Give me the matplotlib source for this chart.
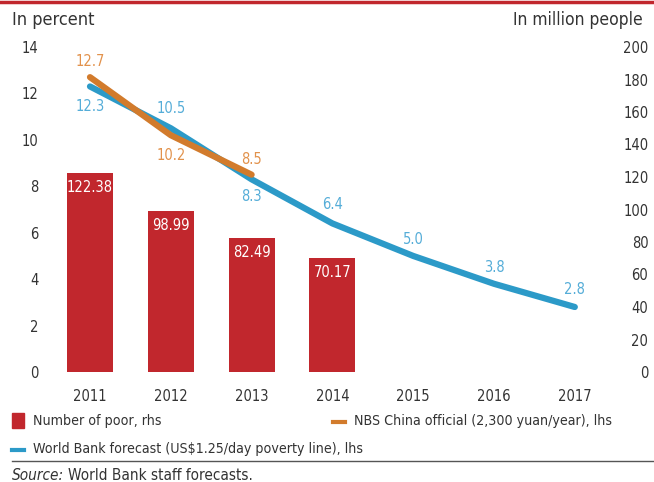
import matplotlib.pyplot as plt
from matplotlib.patches import Rectangle
from matplotlib.lines import Line2D

# condensed face for the whole figure
plt.rcParams['font.family'] = ['DejaVu Sans']
plt.rcParams['font.stretch'] = 'condensed'

years = [2011, 2012, 2013, 2014, 2015, 2016, 2017]
wb_forecast = [12.3, 10.5, 8.3, 6.4, 5.0, 3.8, 2.8]
nbs_years = [2011, 2012, 2013]
nbs_official = [12.7, 10.2, 8.5]
poor_years = [2011, 2012, 2013, 2014]
poor_million = [122.38, 98.99, 82.49, 70.17]
left_ticks = [0, 2, 4, 6, 8, 10, 12, 14]
right_ticks = [0, 20, 40, 60, 80, 100, 120, 140, 160, 180, 200]

RED = '#C1272D'
BLUE = '#2C9AC8'
BLUE_TXT = '#55ADD8'
ORANGE = '#D27B2C'
ORANGE_TXT = '#E2924C'
GREY = '#333333'

W, H = 654, 482
fig = plt.figure(figsize=(W / 100, H / 100), dpi=100)
ax_l, ax_r, ax_t, ax_b = 48, 615, 47, 372
ax = fig.add_axes([ax_l / W, 1 - ax_b / H, (ax_r - ax_l) / W, (ax_b - ax_t) / H])
ax2 = ax.twinx()

# bars on the right axis, lines on the left axis
ax2.bar(poor_years, poor_million, width=0.57, color=RED, zorder=1)
for x, v in zip(poor_years, poor_million):
    ax2.annotate(f'{v:.2f}', (x, v), xytext=(0, -7), textcoords='offset pixels',
                 ha='center', va='top', color='white', fontsize=10.5)

ax.set_zorder(ax2.get_zorder() + 1)
ax.patch.set_visible(False)
ax.plot(years, wb_forecast, color=BLUE, lw=4.5, solid_capstyle='round',
        solid_joinstyle='round')
ax.plot(nbs_years, nbs_official, color=ORANGE, lw=4.5, solid_capstyle='round',
        solid_joinstyle='round')

# value labels, offsets in pixels above (+) or below (-) the point
wb_offsets = [-13, 12, -10, 11, 9, 9, 10]
for x, v, dy in zip(years, wb_forecast, wb_offsets):
    ax.annotate(f'{v:.1f}', (x, v), xytext=(0, dy), textcoords='offset pixels',
                ha='center', va='bottom' if dy > 0 else 'top', color=BLUE_TXT,
                fontsize=10.5)
nbs_offsets = [8, -13, 8]
for x, v, dy in zip(nbs_years, nbs_official, nbs_offsets):
    ax.annotate(f'{v:.1f}', (x, v), xytext=(0, dy), textcoords='offset pixels',
                ha='center', va='bottom' if dy > 0 else 'top', color=ORANGE_TXT,
                fontsize=10.5)

x0 = 2011 - (90 - ax_l) / 80.8
ax.set_xlim(x0, x0 + (ax_r - ax_l) / 80.8)
ax.set_ylim(0, 14)
ax2.set_ylim(0, 200)
ax.set_xticks(years)
ax.set_yticks(left_ticks)
ax2.set_yticks(right_ticks)

for a in (ax, ax2):
    for s in a.spines.values():
        s.set_visible(False)
    a.tick_params(length=0, labelsize=10.5, colors=GREY)
ax.tick_params(axis='x', pad=12)
ax.tick_params(axis='y', pad=7)
ax2.tick_params(axis='y', pad=24)
for lab in ax2.get_yticklabels():
    lab.set_horizontalalignment('right')

# headers
fig.text(12 / W, 1 - 20 / H, 'In percent', fontsize=13, color=GREY, va='center')
fig.text(643 / W, 1 - 20 / H, 'In million people', fontsize=12.5, color=GREY,
         va='center', ha='right')
fig.add_artist(Line2D([0, 1], [1 - 1.5 / H, 1 - 1.5 / H], color=RED, lw=2.5))

# legend
fig.add_artist(Rectangle((12 / W, 1 - 428 / H), 12 / W, 15 / H, color=RED))
fig.text(33 / W, 1 - 421 / H, 'Number of poor, rhs', fontsize=10.2, color=GREY, va='center')
fig.add_artist(Line2D([333 / W, 345 / W], [1 - 422 / H] * 2, color=ORANGE, lw=3))
fig.text(354 / W, 1 - 421 / H, 'NBS China official (2,300 yuan/year), lhs', fontsize=10.2,
         color=GREY, va='center')
fig.add_artist(Line2D([12 / W, 24 / W], [1 - 450 / H] * 2, color=BLUE, lw=3))
fig.text(33 / W, 1 - 449 / H, 'World Bank forecast (US$1.25/day poverty line), lhs',
         fontsize=10.2, color=GREY, va='center')
fig.add_artist(Line2D([12 / W, 1], [1 - 461 / H] * 2, color='#555555', lw=1))
src = fig.text(12 / W, 1 - 475 / H, 'Source:', fontsize=11, color=GREY, va='center',
               style='italic')
fig.add_artist(plt.Annotation('World Bank staff forecasts.', (1, 0.5), xycoords=src,
                              xytext=(4, 0), textcoords='offset pixels',
                              fontsize=11, color=GREY, va='center'))

fig.savefig('out.png', dpi=100)
